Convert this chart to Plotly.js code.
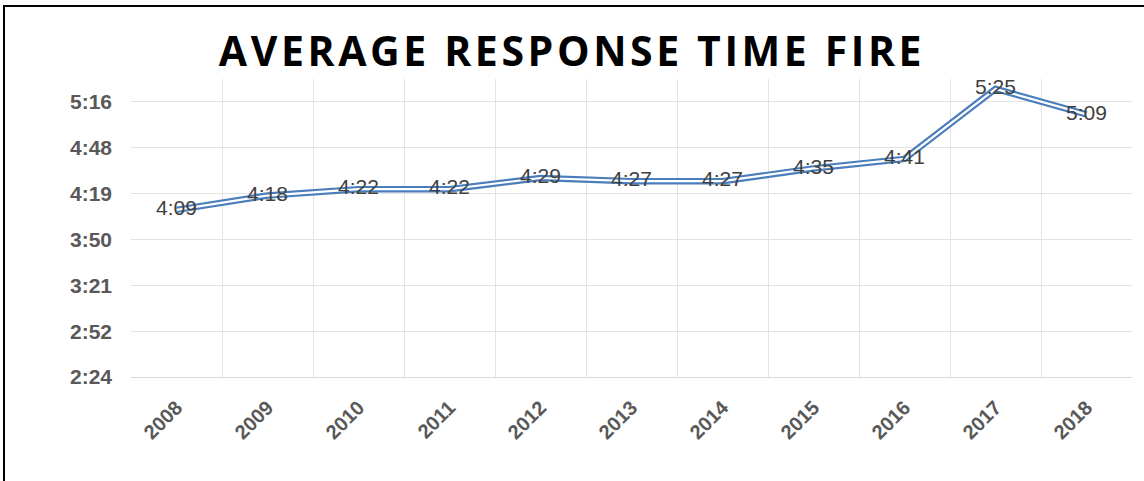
<!DOCTYPE html>
<html>
<head>
<meta charset="utf-8">
<script src="https://cdn.plot.ly/plotly-3.0.1.min.js"></script>
<style>
  html, body { margin: 0; padding: 0; background: #fff; }
  #wrap { position: relative; width: 1144px; height: 481px; overflow: hidden; }
  #chart { width: 1144px; height: 481px; }
  #frame { position: absolute; left: 3px; top: 5px; width: 1200px; height: 600px;
           border-left: 2px solid #000; border-top: 2px solid #000; pointer-events: none; }
  .gtitle { letter-spacing: 3.6px; }
</style>
</head>
<body>
<div id="wrap">
  <div id="chart"></div>
  <div id="frame"></div>
</div>
<script>
// Data (response times in seconds)
const years = ["2008","2009","2010","2011","2012","2013","2014","2015","2016","2017","2018"];
const seconds = [249, 258, 262, 262, 269, 267, 267, 275, 281, 325, 309];
const labels = ["4:09","4:18","4:22","4:22","4:29","4:27","4:27","4:35","4:41","5:25","5:09"];
const yTickVals = [144, 172.8, 201.6, 230.4, 259.2, 288, 316.8];
const yTickText = ["2:24","2:52","3:21","3:50","4:19","4:48","5:16"];

const blue = "#4a7ebb";

const traces = [
  { x: years, y: seconds, type: "scatter", mode: "lines",
    line: { color: blue, width: 6.5 }, hoverinfo: "skip", showlegend: false },
  { x: years, y: seconds, type: "scatter", mode: "lines",
    line: { color: "#ffffff", width: 2.2 }, hoverinfo: "skip", showlegend: false },
  { x: years, y: seconds, type: "scatter", mode: "text",
    text: labels, textposition: "middle center",
    textfont: { family: "Liberation Sans, Arial, sans-serif", size: 21, color: "#404040" },
    hoverinfo: "skip", showlegend: false }
];

const layout = {
  width: 1144, height: 481,
  margin: { l: 131, r: 12, t: 79, b: 104 },
  paper_bgcolor: "#ffffff", plot_bgcolor: "#ffffff",
  title: {
    text: "AVERAGE RESPONSE TIME FIRE",
    font: { family: "Open Sans, sans-serif", size: 41, color: "#000000", weight: 700 },
    x: 0.5, xanchor: "center", xref: "container",
    y: 0.892, yanchor: "middle", yref: "container"
  },
  xaxis: {
    type: "category",
    range: [-0.5, 10.5],
    tickson: "boundaries",
    showgrid: true, gridcolor: "#e3e3e3", gridwidth: 1,
    showline: true, linecolor: "#d9d9d9", linewidth: 1,
    ticks: "", tickangle: -45,
    ticklabelstandoff: 10,
    tickfont: { family: "Liberation Sans, Arial, sans-serif", size: 20, color: "#595959", weight: 700 },
    zeroline: false, fixedrange: true
  },
  yaxis: {
    range: [144, 331.2],
    tickvals: yTickVals, ticktext: yTickText,
    showgrid: true, gridcolor: "#e3e3e3", gridwidth: 1,
    showline: false, ticks: "", zeroline: false,
    ticklabelstandoff: 18,
    tickfont: { family: "Liberation Sans, Arial, sans-serif", size: 21, color: "#595959", weight: 700 },
    fixedrange: true
  }
};

Plotly.newPlot("chart", traces, layout, { displayModeBar: false, staticPlot: true });
</script>
</body>
</html>
